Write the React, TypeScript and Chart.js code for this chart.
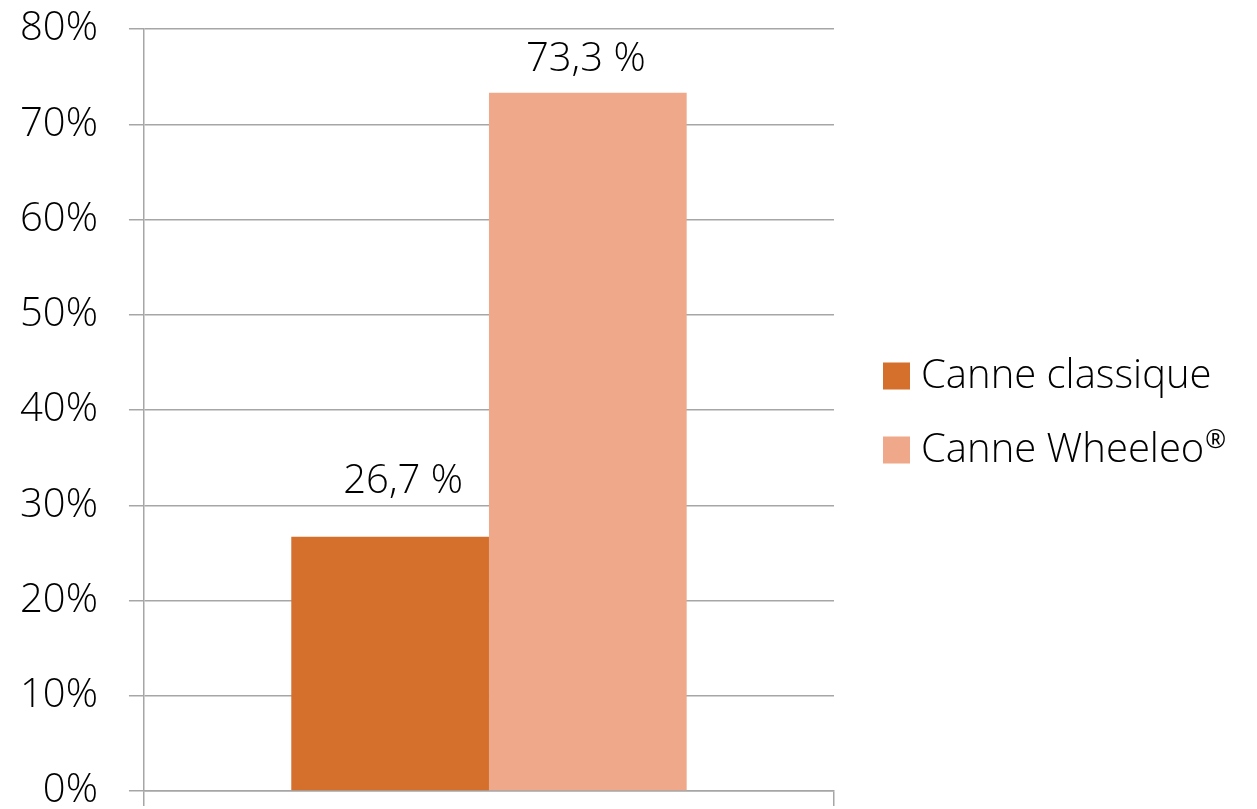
import React, { useEffect, useRef } from "react";
import { Chart, registerables } from "chart.js";

Chart.register(...registerables);

const categories = [""];
const seriesNames = ["Canne classique", "Canne Wheeleo®"];
const seriesColors = ["#D4702B", "#F0A88A"];
const classiqueValues = [26.7];
const wheeleoValues = [73.3];
const valueLabels = ["26,7 %", "73,3 %"];
const yTicks = [0, 10, 20, 30, 40, 50, 60, 70, 80];

const FONT = "'Open Sans', 'Noto Sans', sans-serif";
const FONT_SIZE = 40;

const valueLabelPlugin = {
  id: "valueLabels",
  afterDatasetsDraw(chart: any) {
    const ctx = chart.ctx;
    ctx.save();
    ctx.font = `300 ${FONT_SIZE}px ${FONT}`;
    ctx.fillStyle = "#000000";
    ctx.textAlign = "center";
    ctx.textBaseline = "alphabetic";
    chart.data.datasets.forEach((ds: any, i: number) => {
      const meta = chart.getDatasetMeta(i);
      meta.data.forEach((bar: any) => {
        const dx = ds.labelDx || 0;
        const dy = ds.labelDy || 20;
        ctx.fillText(valueLabels[i], bar.x + dx, bar.y - dy);
      });
    });
    ctx.restore();
  },
};

const sideLegendPlugin = {
  id: "sideLegend",
  afterDraw(chart: any) {
    const ctx = chart.ctx;
    const area = chart.chartArea;
    const box = 27;
    const rowGap = 74;
    const x0 = area.right + 49;
    const cy = (area.top + area.bottom) / 2 + 3;
    const n = chart.data.datasets.length;
    ctx.save();
    ctx.textAlign = "left";
    ctx.textBaseline = "middle";
    chart.data.datasets.forEach((ds: any, i: number) => {
      const y = cy + (i - (n - 1) / 2) * rowGap;
      ctx.fillStyle = ds.backgroundColor;
      ctx.fillRect(x0, y - box / 2, box, box);
      ctx.fillStyle = "#000000";
      const label: string = ds.label;
      const tx = x0 + box + 11;
      ctx.font = `300 ${FONT_SIZE}px ${FONT}`;
      if (label.endsWith("®")) {
        const main = label.slice(0, -1);
        ctx.fillText(main, tx, y + 1);
        const w = ctx.measureText(main).width;
        ctx.font = `400 ${Math.round(FONT_SIZE * 0.62)}px ${FONT}`;
        ctx.fillText("®", tx + w + 1, y - 9);
      } else {
        ctx.fillText(label, tx, y + 1);
      }
    });
    ctx.restore();
  },
};

export default function App() {
  const ref = useRef<HTMLCanvasElement | null>(null);
  useEffect(() => {
    if (!ref.current) return;
    const chart = new Chart(ref.current, {
      type: "bar",
      data: {
        labels: categories,
        datasets: [
          {
            label: seriesNames[0],
            data: classiqueValues,
            backgroundColor: seriesColors[0],
            borderWidth: 0,
            labelDx: 13,
            labelDy: 44,
          } as any,
          {
            label: seriesNames[1],
            data: wheeleoValues,
            backgroundColor: seriesColors[1],
            borderWidth: 0,
            labelDx: -2,
            labelDy: 22,
          } as any,
        ],
      },
      options: {
        animation: false,
        responsive: true,
        maintainAspectRatio: false,
        layout: { padding: { left: -11, right: 423, top: 25, bottom: -12 } },
        datasets: {
          bar: { categoryPercentage: 0.573, barPercentage: 1 },
        },
        plugins: {
          legend: { display: false },
          tooltip: { enabled: false },
        },
        scales: {
          x: {
            grid: {
              display: true,
              drawOnChartArea: false,
              drawTicks: true,
              tickLength: 15,
              offset: true,
              color: "#a6a6a6",
              lineWidth: 1.5,
            },
            border: { display: true, color: "#a6a6a6", width: 1.5 },
            ticks: { display: false },
          },
          y: {
            min: 0,
            max: 80,
            afterBuildTicks: (axis: any) => {
              axis.ticks = yTicks.map((v) => ({ value: v }));
            },
            grid: {
              color: "#a6a6a6",
              lineWidth: 1.5,
              tickLength: 15,
            },
            border: { display: true, color: "#a6a6a6", width: 1.5 },
            ticks: {
              padding: 31,
              color: "#000000",
              font: { family: FONT, size: FONT_SIZE, weight: "300" as any, lineHeight: 0.1 },
              callback: (v: any) => `${v}%`,
            },
          },
        },
      },
      plugins: [valueLabelPlugin, sideLegendPlugin],
    });
    return () => chart.destroy();
  }, []);
  return (
    <div style={{ position: "fixed", left: 0, top: -4, width: 1257, height: 828, background: "#fff" }}>
      <canvas ref={ref} />
    </div>
  );
}
